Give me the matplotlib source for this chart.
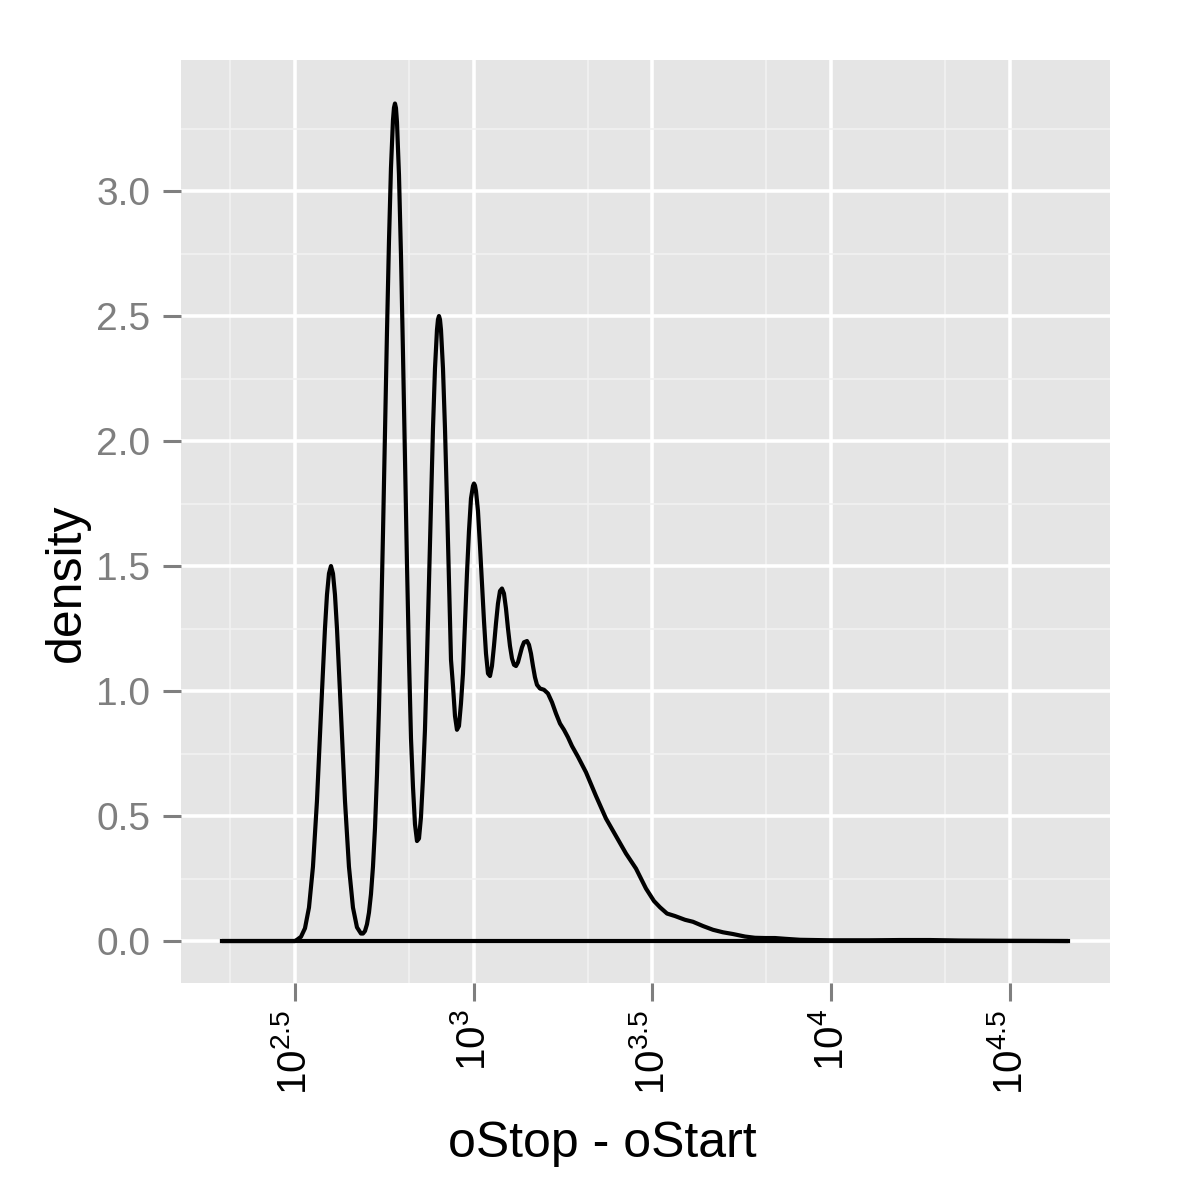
import numpy as np
import matplotlib
matplotlib.use("Agg")
import matplotlib.pyplot as plt

plt.rcParams['font.family'] = ['Liberation Sans', 'DejaVu Sans']
plt.rcParams['mathtext.fontset'] = 'custom'
plt.rcParams['mathtext.rm'] = 'Liberation Sans'
plt.rcParams['mathtext.it'] = 'Liberation Sans'

# density of log10(oStop - oStart)
log_len = [2.2958, 2.5000, 2.5056, 2.5168, 2.5280, 2.5392, 2.5503, 2.5615, 2.5727,
           2.5839, 2.5895, 2.5951, 2.6007, 2.6063, 2.6119, 2.6175, 2.6287, 2.6399,
           2.6510, 2.6622, 2.6734, 2.6846, 2.6902, 2.6958, 2.7014, 2.7070, 2.7126,
           2.7182, 2.7238, 2.7294, 2.7350, 2.7406, 2.7462, 2.7517, 2.7573, 2.7629,
           2.7685, 2.7741, 2.7769, 2.7797, 2.7825, 2.7853, 2.7909, 2.7965, 2.8021,
           2.8077, 2.8133, 2.8189, 2.8245, 2.8301, 2.8357, 2.8413, 2.8469, 2.8524,
           2.8580, 2.8636, 2.8692, 2.8748, 2.8804, 2.8860, 2.8916, 2.8972, 2.9000,
           2.9028, 2.9056, 2.9084, 2.9140, 2.9196, 2.9252, 2.9308, 2.9364, 2.9420,
           2.9476, 2.9531, 2.9587, 2.9643, 2.9699, 2.9755, 2.9811, 2.9867, 2.9923,
           2.9979, 3.0007, 3.0035, 3.0063, 3.0119, 3.0175, 3.0231, 3.0287, 3.0343,
           3.0399, 3.0455, 3.0510, 3.0566, 3.0622, 3.0678, 3.0734, 3.0790, 3.0846,
           3.0902, 3.0958, 3.1014, 3.1070, 3.1126, 3.1182, 3.1238, 3.1294, 3.1350,
           3.1406, 3.1490, 3.1545, 3.1601, 3.1657, 3.1713, 3.1769, 3.1853, 3.1965,
           3.2077, 3.2189, 3.2301, 3.2413, 3.2524, 3.2636, 3.2748, 3.2916, 3.3140,
           3.3420, 3.3699, 3.3979, 3.4259, 3.4538, 3.4818, 3.5042, 3.5210, 3.5406,
           3.5629, 3.5909, 3.6133, 3.6413, 3.6692, 3.6972, 3.7252, 3.7587, 3.7867,
           3.8147, 3.8427, 3.8706, 3.9126, 3.9965, 4.1084, 4.1923, 4.2762, 4.3601,
           4.4720, 4.6622]
density = [0.000, 0.000, 0.005, 0.017, 0.051, 0.134, 0.297, 0.560, 0.910,
           1.250, 1.385, 1.470, 1.500, 1.470, 1.385, 1.250, 0.910, 0.560,
           0.297, 0.134, 0.055, 0.030, 0.030, 0.040, 0.067, 0.114, 0.188,
           0.298, 0.452, 0.663, 0.931, 1.256, 1.631, 2.033, 2.432, 2.797,
           3.092, 3.283, 3.333, 3.350, 3.332, 3.276, 3.065, 2.744, 2.352,
           1.926, 1.508, 1.132, 0.811, 0.616, 0.467, 0.400, 0.410, 0.495,
           0.650, 0.845, 1.125, 1.437, 1.755, 2.050, 2.290, 2.445, 2.486,
           2.500, 2.486, 2.445, 2.290, 2.050, 1.755, 1.437, 1.125, 1.020,
           0.900, 0.845, 0.860, 0.950, 1.070, 1.270, 1.470, 1.640, 1.770,
           1.820, 1.830, 1.822, 1.800, 1.720, 1.580, 1.430, 1.280, 1.150,
           1.070, 1.060, 1.100, 1.180, 1.270, 1.350, 1.400, 1.410, 1.390,
           1.330, 1.250, 1.180, 1.130, 1.105, 1.100, 1.115, 1.145, 1.175,
           1.195, 1.200, 1.185, 1.150, 1.100, 1.055, 1.025, 1.010, 1.005,
           0.990, 0.955, 0.910, 0.870, 0.845, 0.815, 0.780, 0.737, 0.675,
           0.580, 0.490, 0.420, 0.350, 0.290, 0.210, 0.160, 0.135, 0.110,
           0.100, 0.085, 0.077, 0.060, 0.045, 0.035, 0.028, 0.018, 0.013,
           0.012, 0.012, 0.009, 0.005, 0.003, 0.003, 0.004, 0.004, 0.002,
           0.001, 0.000]

xbreaks = [2.5, 3.0, 3.5, 4.0, 4.5]
xlabels = [r'$\mathregular{10^{2.5}}$', r'$\mathregular{10^{3}}$', r'$\mathregular{10^{3.5}}$',
           r'$\mathregular{10^{4}}$', r'$\mathregular{10^{4.5}}$']
ybreaks = [0.0, 0.5, 1.0, 1.5, 2.0, 2.5, 3.0]

fig = plt.figure(figsize=(12, 12), dpi=100)
ax = fig.add_axes([0.1508, 0.1808, 0.7742, 0.7692])
ax.set_facecolor('#E5E5E5')

# minor breaks of a log10 scale sit at the midpoints of the raw values
xminor = [np.log10((10**a + 10**b) / 2) for a, b in zip([2.0] + xbreaks[:-1], xbreaks)]
ax.set_xticks(xminor, minor=True)
ax.set_yticks(np.arange(0.25, 3.5, 0.5), minor=True)
ax.set_xticks(xbreaks)
ax.set_xticklabels(xlabels, rotation=90)
ax.set_yticks(ybreaks)
ax.set_yticklabels(['%.1f' % v for v in ybreaks])

ax.grid(which='major', color='white', lw=2.6)
ax.grid(which='minor', color='#F2F2F2', lw=1.2)
ax.set_axisbelow(True)
for s in ax.spines.values():
    s.set_visible(False)

ax.tick_params(which='major', length=13, width=2.2, color='#7F7F7F')
ax.tick_params(axis='y', labelcolor='#7F7F7F', labelsize=28, pad=9)
ax.tick_params(axis='x', labelcolor='black', labelsize=29, pad=6)
ax.tick_params(which='minor', length=0)

ax.plot(log_len, density, color='black', lw=3.0, solid_joinstyle='round')
ax.plot([log_len[0], log_len[-1]], [0, 0], color='black', lw=3.0, solid_capstyle='round')

ax.set_xlim(2.1811, 4.7797)
ax.set_ylim(-0.168, 3.524)

fig.text(602 / 1200, 1 - 1157 / 1200, 'oStop - oStart', fontsize=36,
         ha='center', va='baseline')
fig.text(67 / 1200, 1 - 583 / 1200, 'density', fontsize=36, rotation=90,
         ha='center', va='center')

fig.savefig('out.png', dpi=100)
